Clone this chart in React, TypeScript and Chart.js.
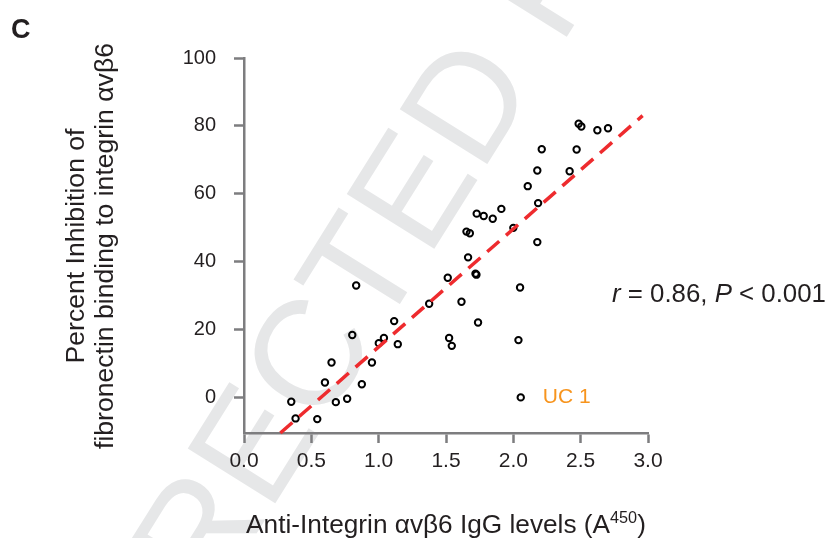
import { useEffect, useRef } from 'react';
import { Chart, registerables } from 'chart.js';

Chart.register(...registerables);

// Anti-integrin αvβ6 IgG levels (A450) per subject
const iggLevels = [
  2.485, 2.505, 2.624, 2.703, 2.211, 2.47, 2.178, 2.418, 2.107, 2.184,
  1.911, 1.728, 1.78, 1.847, 2.0, 1.652, 1.677, 2.178, 1.664, 1.719,
  1.726, 1.513, 2.05, 0.833, 1.375, 1.115, 0.804, 1.001, 1.039, 1.142,
  0.65, 0.95, 0.601, 0.875, 0.351, 0.682, 0.766, 0.383, 0.544, 1.615,
  1.738, 1.523, 1.543, 2.038, 2.055,
];

// Percent inhibition of fibronectin binding to integrin αvβ6
const inhibitionPct = [
  80.6, 79.8, 78.7, 79.3, 73.1, 73.0, 66.8, 66.6, 62.2, 57.2,
  55.5, 54.1, 53.4, 52.6, 49.9, 48.8, 48.3, 45.7, 41.2, 36.4,
  36.1, 35.2, 32.3, 32.9, 27.5, 22.4, 18.3, 15.9, 17.4, 15.6,
  10.2, 10.2, 4.3, 3.8, -1.4, -1.5, -0.5, -6.3, -6.5, 28.1,
  22.0, 17.4, 15.1, 16.8, -0.1,
];

// Regression line end points
const fitX = [0.27, 2.96];
const fitY = [-10.6, 83.0];

// Axis ranges and ticks
const xMin = 0;
const xMax = 3;
const yMin = -10.6;
const yMax = 100;
const xTickValues = [0, 0.5, 1.0, 1.5, 2.0, 2.5, 3.0];
const yTickValues = [0, 20, 40, 60, 80, 100];

// Labelled outlier (index into the arrays above)
const ucIndex = 44;
const ucLabel = 'UC 1';

const yTitleLines = ['Percent Inhibition of', 'fibronectin binding to integrin αvβ6'];
const xTitleMain = 'Anti-Integrin αvβ6 IgG levels (A';
const xTitleSup = '450';
const xTitleClose = ')';
const statsParts: [string, boolean][] = [
  ['r', true],
  [' = 0.86, ', false],
  ['P', true],
  [' < 0.001', false],
];

const FONT = "'Liberation Sans', Arial, Helvetica, sans-serif";
const TEXT = '#231f20';
const AXIS = '#7d7d7f';

// font size that makes a string span the given width
function fitSize(ctx: CanvasRenderingContext2D, text: string, width: number, style = '') {
  ctx.font = `${style}100px ${FONT}`;
  return (100 * width) / ctx.measureText(text).width;
}

const watermark = {
  id: 'watermark',
  beforeDraw(chart: any) {
    const ctx = chart.ctx as CanvasRenderingContext2D;
    ctx.save();
    ctx.fillStyle = '#ffffff';
    ctx.fillRect(0, 0, chart.width, chart.height);
    const size = 150;
    ctx.font = `${size}px ${FONT}`;
    ctx.fillStyle = '#e6e7e8';
    const text = 'CORRECTED PROOF';
    const pre = ctx.measureText('CORRECTE').width;
    const wD = ctx.measureText('D').width;
    ctx.translate(464, 100);
    ctx.rotate((-58 * Math.PI) / 180);
    ctx.textBaseline = 'alphabetic';
    ctx.textAlign = 'left';
    ctx.fillText(text, -(pre + wD / 2), size * 0.716 * 0.5);
    ctx.restore();
  },
};

const labels = {
  id: 'labels',
  afterDraw(chart: any) {
    const ctx = chart.ctx as CanvasRenderingContext2D;
    const { x, y } = chart.scales;
    const area = chart.chartArea;
    ctx.save();
    ctx.fillStyle = TEXT;

    // panel letter
    ctx.font = `bold 27px ${FONT}`;
    ctx.textBaseline = 'alphabetic';
    ctx.textAlign = 'left';
    ctx.fillText('C', 11, 38);

    // y-axis title, two lines
    const ySize = fitSize(ctx, yTitleLines[1], 406);
    ctx.font = `${ySize}px ${FONT}`;
    ctx.textAlign = 'center';
    ctx.textBaseline = 'middle';
    const yc = 246;
    const cols = [77, 106];
    yTitleLines.forEach((t, i) => {
      ctx.save();
      ctx.translate(cols[i], yc);
      ctx.rotate(-Math.PI / 2);
      ctx.fillText(t, 0, 0);
      ctx.restore();
    });

    // x-axis title with superscript
    ctx.textBaseline = 'alphabetic';
    ctx.textAlign = 'left';
    const xs = fitSize(ctx, xTitleMain + xTitleClose, 401 * 0.93);
    const supSize = xs * 0.62;
    ctx.font = `${xs}px ${FONT}`;
    const wMain = ctx.measureText(xTitleMain).width;
    const wClose = ctx.measureText(xTitleClose).width;
    ctx.font = `${supSize}px ${FONT}`;
    const wSup = ctx.measureText(xTitleSup).width;
    const total = wMain + wSup + wClose;
    let px = (area.left + area.right) / 2 - total / 2;
    const base = 533;
    ctx.font = `${xs}px ${FONT}`;
    ctx.fillText(xTitleMain, px, base);
    px += wMain;
    ctx.font = `${supSize}px ${FONT}`;
    ctx.fillText(xTitleSup, px, base - xs * 0.4);
    px += wSup;
    ctx.font = `${xs}px ${FONT}`;
    ctx.fillText(xTitleClose, px, base);

    // correlation statistics
    const statsSize = fitSize(ctx, statsParts.map((p) => p[0]).join(''), 214);
    let sx = 612;
    const sy = 302;
    statsParts.forEach(([t, it]) => {
      ctx.font = `${it ? 'italic ' : ''}${statsSize}px ${FONT}`;
      ctx.fillText(t, sx, sy);
      sx += ctx.measureText(t).width;
    });

    // outlier label
    ctx.fillStyle = '#f7941d';
    ctx.font = `21px ${FONT}`;
    ctx.textBaseline = 'middle';
    const ux = x.getPixelForValue(iggLevels[ucIndex]) + 22;
    const uy = y.getPixelForValue(inhibitionPct[ucIndex]);
    ctx.fillText(ucLabel, ux, uy);
    ctx.restore();
  },
};

export default function App() {
  const ref = useRef<HTMLCanvasElement | null>(null);

  useEffect(() => {
    if (!ref.current) return;
    const points = iggLevels.map((v, i) => ({ x: v, y: inhibitionPct[i] }));
    const fit = fitX.map((v, i) => ({ x: v, y: fitY[i] }));
    const chart = new Chart(ref.current, {
      type: 'scatter',
      data: {
        datasets: [
          {
            type: 'line',
            data: fit,
            borderColor: '#ee2b2e',
            borderWidth: 3.5,
            borderDash: [16, 9],
            pointRadius: 0,
            fill: false,
            clip: false as any,
            order: 0,
          } as any,
          {
            data: points,
            pointRadius: 3.2,
            pointHoverRadius: 3.2,
            pointBorderWidth: 2,
            pointBackgroundColor: 'rgba(255,255,255,0)',
            pointBorderColor: '#000000',
            borderColor: '#000000',
            order: 1,
          },
        ],
      },
      options: {
        responsive: false,
        animation: false,
        events: [],
        layout: { padding: { left: 0, top: 58, right: 182, bottom: 65 } },
        plugins: { legend: { display: false }, tooltip: { enabled: false } },
        scales: {
          x: {
            type: 'linear',
            min: xMin,
            max: xMax,
            afterFit: (s: any) => {
              s.height = 40;
            },
            afterBuildTicks: (s: any) => {
              s.ticks = xTickValues.map((v) => ({ value: v }));
            },
            border: { display: true, color: AXIS, width: 2.5 },
            grid: {
              display: true,
              drawOnChartArea: false,
              drawTicks: true,
              tickLength: 10,
              tickWidth: 2.5,
              tickColor: AXIS,
            },
            ticks: {
              color: TEXT,
              padding: 6,
              font: { family: FONT, size: 21 },
              callback: (v: any) => Number(v).toFixed(1),
              maxRotation: 0,
            },
          },
          y: {
            type: 'linear',
            min: yMin,
            max: yMax,
            afterFit: (s: any) => {
              s.width = 244;
            },
            afterBuildTicks: (s: any) => {
              s.ticks = yTickValues.map((v) => ({ value: v }));
            },
            border: { display: true, color: AXIS, width: 2.5 },
            grid: {
              display: true,
              drawOnChartArea: false,
              drawTicks: true,
              tickLength: 10,
              tickWidth: 2.5,
              tickColor: AXIS,
            },
            ticks: {
              color: TEXT,
              padding: 18,
              font: { family: FONT, size: 20 },
              callback: (v: any) => String(v),
            },
          },
        },
      },
      plugins: [watermark, labels],
    });
    return () => chart.destroy();
  }, []);

  return (
    <div style={{ position: 'fixed', left: 0, top: 0, width: 830, height: 538, background: '#fff' }}>
      <canvas ref={ref} width={830} height={538} style={{ width: 830, height: 538, display: 'block' }} />
    </div>
  );
}
